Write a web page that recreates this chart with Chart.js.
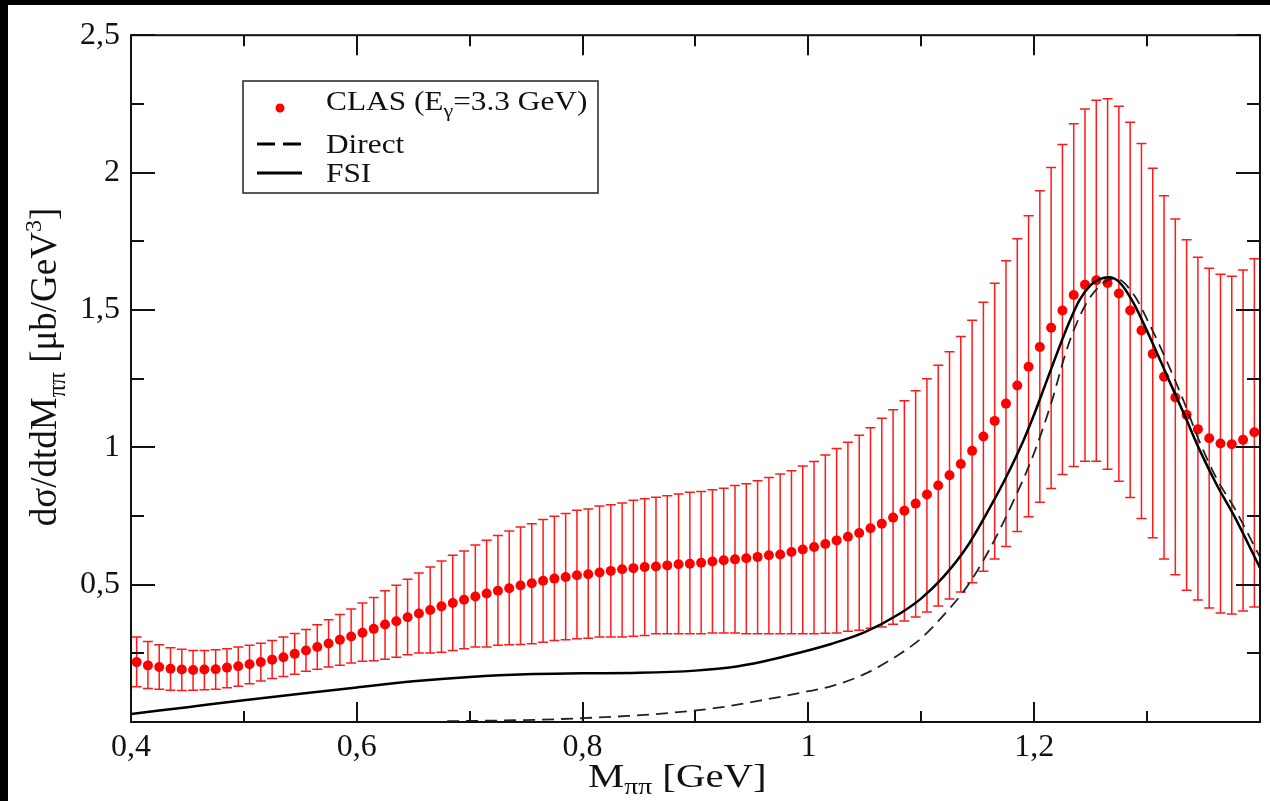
<!DOCTYPE html>
<html>
<head>
<meta charset="utf-8">
<script src="https://cdn.jsdelivr.net/npm/chart.js@4.4.1/dist/chart.umd.min.js"></script>
<style>
  html, body { margin: 0; padding: 0; background: #000; width: 1270px; height: 801px; overflow: hidden; }
  #wrap { position: absolute; left: 8px; top: 5px; width: 1262px; height: 796px; background: #fff; }
</style>
</head>
<body>
<div id="wrap"><canvas id="graph" width="1262" height="796"></canvas></div>
<script>
// CLAS data, M_pipi in GeV
const clasMass = [
  0.405, 0.415, 0.425, 0.435, 0.445, 0.455, 0.465, 0.475, 0.485, 0.495,
  0.505, 0.515, 0.525, 0.535, 0.545, 0.555, 0.565, 0.575, 0.585, 0.595,
  0.605, 0.615, 0.625, 0.635, 0.645, 0.655, 0.665, 0.675, 0.685, 0.695,
  0.705, 0.715, 0.725, 0.735, 0.745, 0.755, 0.765, 0.775, 0.785, 0.795,
  0.805, 0.815, 0.825, 0.835, 0.845, 0.855, 0.865, 0.875, 0.885, 0.895,
  0.905, 0.915, 0.925, 0.935, 0.945, 0.955, 0.965, 0.975, 0.985, 0.995,
  1.005, 1.015, 1.025, 1.035, 1.045, 1.055, 1.065, 1.075, 1.085, 1.095,
  1.105, 1.115, 1.125, 1.135, 1.145, 1.155, 1.165, 1.175, 1.185, 1.195,
  1.205, 1.215, 1.225, 1.235, 1.245, 1.255, 1.265, 1.275, 1.285, 1.295,
  1.305, 1.315, 1.325, 1.335, 1.345, 1.355, 1.365, 1.375, 1.385, 1.395
]
const clasValue = [
  0.218, 0.206, 0.200, 0.194, 0.191, 0.189, 0.191, 0.192, 0.198, 0.203,
  0.210, 0.218, 0.227, 0.236, 0.248, 0.260, 0.273, 0.286, 0.299, 0.311,
  0.325, 0.339, 0.355, 0.367, 0.381, 0.395, 0.408, 0.421, 0.433, 0.445,
  0.457, 0.468, 0.478, 0.487, 0.497, 0.505, 0.514, 0.522, 0.528, 0.534,
  0.538, 0.544, 0.550, 0.556, 0.560, 0.564, 0.566, 0.570, 0.574, 0.576,
  0.580, 0.584, 0.589, 0.592, 0.596, 0.601, 0.607, 0.610, 0.619, 0.628,
  0.637, 0.648, 0.661, 0.674, 0.688, 0.705, 0.722, 0.744, 0.769, 0.795,
  0.828, 0.861, 0.898, 0.939, 0.987, 1.039, 1.096, 1.159, 1.225, 1.293,
  1.365, 1.435, 1.498, 1.554, 1.592, 1.608, 1.598, 1.560, 1.498, 1.425,
  1.340, 1.257, 1.181, 1.118, 1.066, 1.033, 1.014, 1.011, 1.027, 1.055
]
// upper and lower ends of the error bars
const clasTop = [
  0.309, 0.293, 0.281, 0.270, 0.265, 0.260, 0.260, 0.263, 0.267, 0.273,
  0.279, 0.287, 0.297, 0.309, 0.322, 0.337, 0.354, 0.372, 0.391, 0.411,
  0.433, 0.453, 0.478, 0.498, 0.520, 0.542, 0.564, 0.586, 0.607, 0.622,
  0.644, 0.662, 0.679, 0.695, 0.710, 0.722, 0.737, 0.749, 0.759, 0.771,
  0.775, 0.786, 0.791, 0.797, 0.807, 0.813, 0.818, 0.824, 0.830, 0.836,
  0.839, 0.845, 0.851, 0.861, 0.867, 0.878, 0.890, 0.903, 0.915, 0.932,
  0.948, 0.972, 0.996, 1.018, 1.044, 1.071, 1.106, 1.137, 1.169, 1.206,
  1.249, 1.299, 1.348, 1.403, 1.462, 1.528, 1.597, 1.679, 1.759, 1.843,
  1.934, 2.018, 2.102, 2.178, 2.231, 2.263, 2.269, 2.241, 2.183, 2.106,
  2.016, 1.916, 1.831, 1.755, 1.692, 1.652, 1.630, 1.623, 1.645, 1.686
]
const clasBottom = [
  0.128, 0.122, 0.119, 0.116, 0.115, 0.116, 0.117, 0.119, 0.125, 0.130,
  0.139, 0.149, 0.158, 0.166, 0.174, 0.185, 0.192, 0.200, 0.207, 0.215,
  0.221, 0.223, 0.228, 0.236, 0.245, 0.251, 0.251, 0.254, 0.260, 0.267,
  0.273, 0.273, 0.279, 0.281, 0.282, 0.285, 0.290, 0.297, 0.299, 0.303,
  0.305, 0.309, 0.309, 0.309, 0.312, 0.315, 0.321, 0.321, 0.321, 0.321,
  0.321, 0.324, 0.324, 0.324, 0.321, 0.321, 0.321, 0.321, 0.321, 0.321,
  0.321, 0.323, 0.324, 0.330, 0.334, 0.341, 0.346, 0.356, 0.368, 0.382,
  0.400, 0.422, 0.448, 0.473, 0.507, 0.549, 0.593, 0.639, 0.693, 0.747,
  0.800, 0.850, 0.901, 0.930, 0.949, 0.949, 0.920, 0.876, 0.817, 0.741,
  0.671, 0.593, 0.536, 0.480, 0.444, 0.415, 0.397, 0.393, 0.404, 0.419
]

// FSI curve (solid)
const fsiMass = [0.40, 0.45, 0.50, 0.55, 0.60, 0.65, 0.70, 0.75, 0.80, 0.85, 0.90, 0.93, 0.96, 0.99,
  1.02, 1.05, 1.08, 1.10, 1.12, 1.14, 1.16, 1.175, 1.19, 1.20, 1.21, 1.22, 1.23, 1.24, 1.25,
  1.258, 1.266, 1.275, 1.288, 1.303, 1.318, 1.333, 1.347, 1.362, 1.377, 1.40]
const fsiValue = [0.029, 0.054, 0.079, 0.103, 0.126, 0.148, 0.164, 0.174, 0.177, 0.179, 0.187, 0.198, 0.220, 0.250,
  0.284, 0.327, 0.392, 0.450, 0.530, 0.635, 0.775, 0.890, 1.020, 1.120, 1.230, 1.340, 1.445, 1.535, 1.590,
  1.612, 1.619, 1.603, 1.525, 1.396, 1.257, 1.118, 0.986, 0.861, 0.751, 0.561]

// Direct curve (dashed)
const directMass = [0.68, 0.72, 0.76, 0.80, 0.84, 0.88, 0.92, 0.96, 1.00, 1.02, 1.05, 1.08, 1.10, 1.12,
  1.14, 1.16, 1.18, 1.20, 1.215, 1.23, 1.245, 1.26, 1.272, 1.288, 1.303, 1.318, 1.333, 1.347,
  1.362, 1.377, 1.40]
const directValue = [0.003, 0.005, 0.008, 0.014, 0.022, 0.034, 0.052, 0.080, 0.112, 0.130, 0.175, 0.245, 0.305, 0.390,
  0.490, 0.625, 0.790, 0.980, 1.160, 1.370, 1.515, 1.595, 1.615, 1.557, 1.440, 1.308, 1.162, 1.015,
  0.883, 0.781, 0.600]

const xTicks = { min: 0.4, max: 1.4, step: 0.1 }
const yTicks = { min: 0, max: 2.5, step: 0.25 }

function toPoints(xs, ys) {
  return xs.map((x, i) => ({ x: x, y: ys[i] }))
}

function fmt(v) {
  return String(Math.round(v * 10) / 10).replace('.', ',')
}

const serif = "'Liberation Serif', 'Times New Roman', serif"

// error bars drawn below the points
const errorBars = {
  id: 'errorBars',
  beforeDatasetsDraw(chart) {
    const ctx = chart.ctx
    const xs = chart.scales.x, ys = chart.scales.y
    ctx.save()
    ctx.strokeStyle = '#ff1a1a'
    ctx.lineWidth = 1.5
    clasMass.forEach((m, i) => {
      const px = xs.getPixelForValue(m)
      const top = ys.getPixelForValue(clasTop[i])
      const bot = ys.getPixelForValue(clasBottom[i])
      ctx.beginPath()
      ctx.moveTo(px, top); ctx.lineTo(px, bot)
      ctx.moveTo(px - 5, top); ctx.lineTo(px + 5, top)
      ctx.moveTo(px - 5, bot); ctx.lineTo(px + 5, bot)
      ctx.stroke()
    })
    ctx.restore()
  }
}

// text pieces: [text, size, baseline shift]; sx stretches horizontally
function drawParts(ctx, parts, x, base, sx) {
  ctx.save()
  ctx.translate(x, base)
  ctx.scale(sx, 1)
  let cx = 0
  parts.forEach(p => {
    ctx.font = p[1] + 'px ' + serif
    ctx.fillText(p[0], cx, p[2])
    cx += ctx.measureText(p[0]).width
  })
  ctx.restore()
  return cx * sx
}

function partsWidth(ctx, parts) {
  let w = 0
  parts.forEach(p => { ctx.font = p[1] + 'px ' + serif; w += ctx.measureText(p[0]).width })
  return w
}

// frame, inward ticks, legend and axis titles
const frame = {
  id: 'frame',
  afterDraw(chart) {
    const ctx = chart.ctx
    const a = chart.chartArea
    const xs = chart.scales.x, ys = chart.scales.y
    ctx.save()
    ctx.strokeStyle = '#111'
    ctx.lineWidth = 2
    ctx.strokeRect(a.left, a.top, a.right - a.left, a.bottom - a.top)

    ctx.beginPath()
    xs.ticks.forEach(t => {
      const px = Math.round(xs.getPixelForValue(t.value))
      const major = Math.round(t.value * 10) % 2 === 0
      const len = major ? 20 : 11
      ctx.moveTo(px, a.bottom); ctx.lineTo(px, a.bottom - len)
      ctx.moveTo(px, a.top); ctx.lineTo(px, a.top + len)
    })
    ys.ticks.forEach(t => {
      const py = Math.round(ys.getPixelForValue(t.value))
      const major = Math.round(t.value * 4) % 2 === 0
      const len = major ? 24 : 13
      ctx.moveTo(a.left, py); ctx.lineTo(a.left + len, py)
      ctx.moveTo(a.right, py); ctx.lineTo(a.right - len, py)
    })
    ctx.stroke()

    // legend
    ctx.lineWidth = 1.5
    ctx.strokeStyle = '#222'
    ctx.strokeRect(235, 76, 355, 112)
    ctx.fillStyle = '#ff0000'
    ctx.beginPath()
    ctx.arc(272, 103, 4.5, 0, Math.PI * 2)
    ctx.fill()
    ctx.strokeStyle = '#000'
    ctx.lineWidth = 3
    ctx.setLineDash([18, 8])
    ctx.beginPath(); ctx.moveTo(249, 139); ctx.lineTo(294, 139); ctx.stroke()
    ctx.setLineDash([])
    ctx.beginPath(); ctx.moveTo(249, 168); ctx.lineTo(294, 168); ctx.stroke()

    ctx.fillStyle = '#111'
    ctx.textBaseline = 'alphabetic'
    ctx.textAlign = 'left'
    drawParts(ctx, [['CLAS (E', 27, 0], ['γ', 19, 7], ['=3.3 GeV)', 27, 0]], 318, 105, 1.16)
    drawParts(ctx, [['Direct', 27, 0]], 318, 148, 1.16)
    drawParts(ctx, [['FSI', 27, 0]], 318, 177, 1.16)

    // x title
    drawParts(ctx, [['M', 34, 0], ['ππ', 23, 7], [' [GeV]', 34, 0]], 580, 782, 1.2)

    // y title, rotated
    ctx.save()
    ctx.translate(48, 362)
    ctx.rotate(-Math.PI / 2)
    const yParts = [['dσ/dtdM', 37, 0], ['ππ', 25, 9], [' [μb/GeV', 37, 0], ['3', 24, -15], [']', 37, 0]]
    const w = partsWidth(ctx, yParts)
    drawParts(ctx, yParts, -w / 2, 0, 1)
    ctx.restore()

    ctx.restore()
  }
}

const graph = new Chart(document.getElementById('graph'), {
  type: 'scatter',
  data: {
    datasets: [
      {
        label: 'FSI',
        data: toPoints(fsiMass, fsiValue),
        showLine: true,
        borderColor: '#000',
        borderWidth: 2.5,
        pointRadius: 0,
        cubicInterpolationMode: 'monotone',
        order: 1
      },
      {
        label: 'Direct',
        data: toPoints(directMass, directValue),
        showLine: true,
        borderColor: '#222',
        borderWidth: 1.8,
        borderDash: [12, 7],
        pointRadius: 0,
        cubicInterpolationMode: 'monotone',
        order: 2
      },
      {
        label: 'CLAS (Eγ=3.3 GeV)',
        data: toPoints(clasMass, clasValue),
        showLine: false,
        pointRadius: 5,
        pointBackgroundColor: '#ff0000',
        pointBorderWidth: 0,
        order: 3
      }
    ]
  },
  options: {
    responsive: false,
    animation: false,
    layout: { padding: { top: 26, right: 10, left: 0, bottom: 0 } },
    plugins: { legend: { display: false }, tooltip: { enabled: false } },
    scales: {
      x: {
        type: 'linear',
        min: xTicks.min,
        max: xTicks.max,
        grid: { display: false, drawTicks: false },
        border: { display: false },
        afterFit: s => { s.height = 79 },
        ticks: {
          stepSize: xTicks.step,
          autoSkip: false,
          maxRotation: 0,
          padding: 6,
          color: '#111',
          font: { family: serif, size: 32 },
          callback: v => (Math.round(v * 10) % 2 === 0 && v < 1.35) ? fmt(v) : ''
        }
      },
      y: {
        min: yTicks.min,
        max: yTicks.max,
        grid: { display: false, drawTicks: false },
        border: { display: false },
        afterFit: s => { s.width = 123 },
        ticks: {
          stepSize: yTicks.step,
          autoSkip: false,
          padding: 11,
          color: '#111',
          font: { family: serif, size: 32 },
          callback: v => (Math.round(v * 4) % 2 === 0 && v > 0) ? fmt(v) : ''
        }
      }
    }
  },
  plugins: [errorBars, frame]
})
</script>
</body>
</html>
